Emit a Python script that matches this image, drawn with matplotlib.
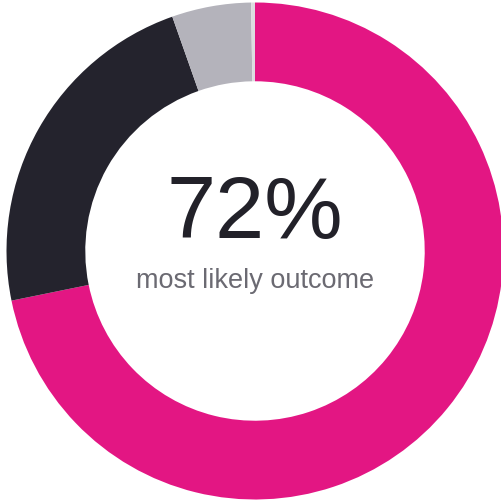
import matplotlib
matplotlib.use("Agg")
import matplotlib.pyplot as plt

# Outcome shares (percent), clockwise from 12 o'clock
labels = ["Most likely", "Second", "Third", "Other"]
shares = [71.8, 22.8, 5.15, 0.25]
colors = ["#e31683", "#24232d", "#b4b3bb", "#dddde0"]

headline = "72%"
caption = "most likely outcome"

plt.rcParams["font.family"] = ["Liberation Sans", "DejaVu Sans"]

fig = plt.figure(figsize=(5.01, 5.02), dpi=100)
# outer radius ~248.5 px, centre at (255, 252) from top-left
ax = fig.add_axes([6.5 / 501, 1.5 / 502, 497 / 501, 497 / 502])

ax.pie(shares, colors=colors, startangle=90, counterclock=False,
       radius=1.0, wedgeprops=dict(width=0.317, linewidth=0))
ax.set_xlim(-1, 1)
ax.set_ylim(-1, 1)
ax.axis("off")

ax.text(0.0, 0.146, headline, ha="center", va="center",
        fontsize=63.5, color="#222129")
ax.text(0.0, -0.115, caption, ha="center", va="center",
        fontsize=19.5, color="#6b6a72")

fig.savefig("out.png", dpi=100)
